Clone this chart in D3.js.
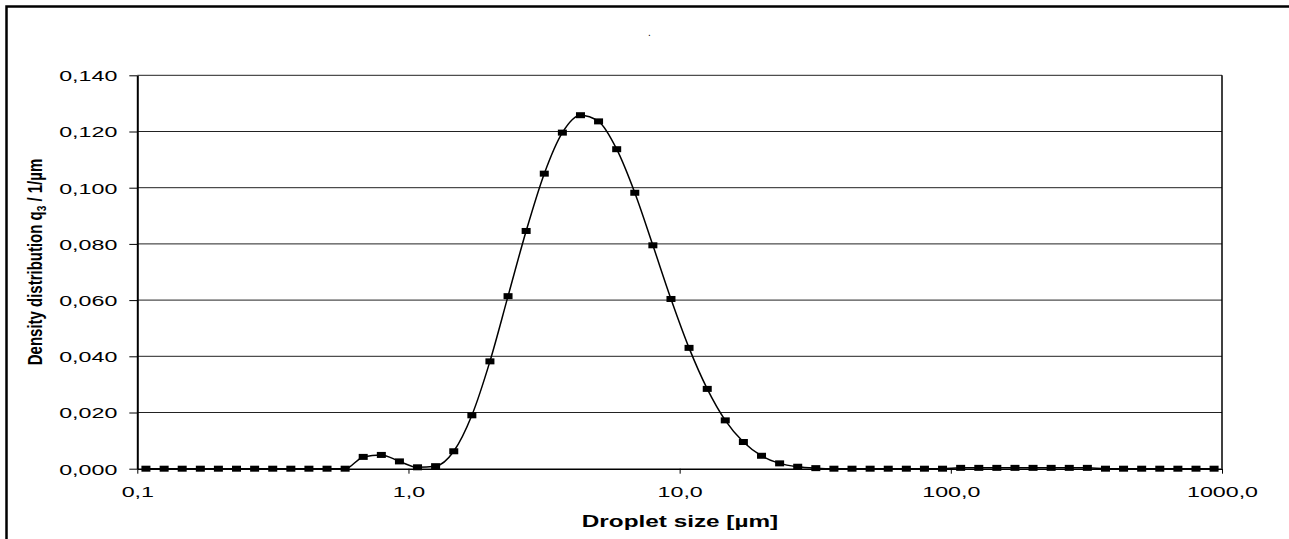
<!DOCTYPE html>
<html>
<head>
<meta charset="utf-8">
<script src="https://cdn.jsdelivr.net/npm/d3@7"></script>
<style>
body{margin:0;background:#fff}
text{font-family:"Liberation Sans",Arial,sans-serif;fill:#000}
</style>
</head>
<body>
<svg id="chart" width="1289" height="539"></svg>
<script>
// droplet size classes [µm] (class centres)
var sizes = [0.1076,0.1256,0.1464,0.1708,0.1991,0.2322,0.2708,0.3158,0.3683,0.4294,
    0.5008,0.5840,0.6809,0.7942,0.9261,1.080,1.259,1.469,1.713,1.997,
    2.329,2.716,3.168,3.694,4.308,5.023,5.859,6.832,7.966,9.290,
    10.83,12.64,14.73,17.18,20.04,23.37,27.25,31.78,37.06,43.21,
    50.40,58.78,68.54,79.93,93.21,108.7,126.8,147.8,172.4,201.0,
    234.4,273.4,318.8,371.8,433.5,505.6,589.6,687.6,801.8,935.0]
// density distribution q3 [1/µm]
var q3 = [0,0,0,0,0,0,0,0,0,0,
    0,0,0.0042,0.0049,0.0026,0.0005,0.0009,0.0062,0.0190,0.0382,
    0.0614,0.0846,0.1050,0.1196,0.1258,0.1236,0.1137,0.0982,0.0795,0.0604,
    0.0430,0.0284,0.0172,0.0095,0.0046,0.0019,0.0007,0.0002,0,0,
    0,0,0,0,0,0.0003,0.0003,0.0003,0.0003,0.0003,
    0.0003,0.0003,0.0003,0,0,0,0,0,0,0]
var xTicks = [0.1,1,10,100,1000]
var yTicks = [0,0.02,0.04,0.06,0.08,0.1,0.12,0.14]

var stretch = 1.55 // the original picture is stretched sideways

var svg = d3.select("#chart")
var pLeft = 137.3, pRight = 1222, pTop = 75.3, pBottom = 468.7

var xScale = d3.scaleLog().domain([0.1,1000]).range([pLeft,pRight])
var yScale = d3.scaleLinear().domain([0,0.14]).range([pBottom,pTop])

// outer frame (only top and left are in view)
svg.append("rect").attr("x",6.5).attr("y",6.5).attr("width",1300).attr("height",560)
    .attr("fill","none").attr("stroke","#000").attr("stroke-width",2.5)

// title is just a dot
svg.append("text").text(".").attr("x",648).attr("y",36).attr("font-size",10)

// grid
svg.selectAll("line.grid").data(yTicks.slice(1)).enter().append("line")
    .attr("class","grid")
    .attr("x1",pLeft).attr("x2",pRight)
    .attr("y1",function(d){return yScale(d)}).attr("y2",function(d){return yScale(d)})
    .attr("stroke","#222").attr("stroke-width",1)
svg.append("line").attr("x1",pRight).attr("x2",pRight).attr("y1",pTop).attr("y2",pBottom)
    .attr("stroke","#000").attr("stroke-width",1.5)

var yAxis = d3.axisLeft(yScale).tickValues(yTicks).tickSize(8).tickSizeOuter(0)
    .tickFormat(function(d){return d3.format(".3f")(d).replace(".",",")})
var gy = svg.append("g").attr("transform","translate("+pLeft+",0)").call(yAxis)
gy.select(".domain").attr("stroke-width",2)
gy.selectAll("text").attr("font-size",15).attr("font-family","Liberation Sans, Arial, sans-serif")
    .attr("x",-20/stretch).attr("dy","0.36em").attr("transform","scale("+stretch+",1)")

var xAxis = d3.axisBottom(xScale).tickValues(xTicks).tickSize(5).tickSizeOuter(0)
    .tickFormat(function(d){return d3.format(".1f")(d).replace(".",",")})
var gx = svg.append("g").attr("transform","translate(0,"+pBottom+")").call(xAxis)
gx.select(".domain").attr("stroke-width",1.5)
gx.selectAll("text").attr("font-size",15).attr("font-family","Liberation Sans, Arial, sans-serif")
    .attr("y",18).attr("transform","scale("+stretch+",1)")

// axis titles
svg.append("text").text("Droplet size [µm]")
    .attr("font-size",16).attr("font-weight","bold").attr("text-anchor","middle")
    .attr("transform","translate(680,527) scale(1.52,1)")

var yl = svg.append("text").attr("font-size",15).attr("font-weight","bold").attr("text-anchor","middle")
    .attr("transform","translate(42,262) rotate(-90) scale(1,1.35)")
yl.append("tspan").text("Density distribution q")
yl.append("tspan").text("3").attr("font-size",10).attr("dy",3)
yl.append("tspan").text(" / 1/µm").attr("dy",-3)

// curve + markers
var pts = sizes.map(function(s,i){return {x:s,y:q3[i]}})
var line = d3.line().x(function(d){return xScale(d.x)}).y(function(d){return yScale(d.y)})
    .curve(d3.curveMonotoneX)
svg.append("path").datum(pts).attr("d",line)
    .attr("fill","none").attr("stroke","#000").attr("stroke-width",1.5)
svg.selectAll("rect.pt").data(pts).enter().append("rect")
    .attr("class","pt")
    .attr("x",function(d){return xScale(d.x)-4.5})
    .attr("y",function(d){return yScale(d.y)-3})
    .attr("width",9).attr("height",6)
    .attr("fill","#000")
</script>
</body>
</html>
